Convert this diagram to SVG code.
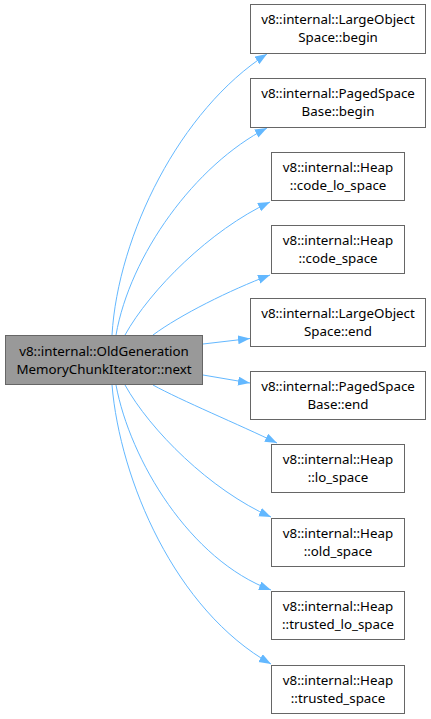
<svg xmlns="http://www.w3.org/2000/svg" width="431" height="719" viewBox="0 0 431 719">
<defs>
<style>
.node rect{stroke:#666666;stroke-width:1;}
.leaf rect{fill:#ffffff;}
.main rect{fill:#999999;}
text{font-family:"Noto Sans","DejaVu Sans",sans-serif;font-size:13.33px;fill:#000000;text-anchor:middle;}
.edges path{fill:none;stroke:#63b8ff;stroke-width:1;marker-end:url(#arr);}
</style>
<marker id="arr" markerUnits="userSpaceOnUse" markerWidth="14" markerHeight="11" refX="12" refY="4.5" orient="auto">
<path d="M0,0 L12,4.5 L0,9 Z" fill="#63b8ff"/>
</marker>
</defs>
<rect width="431" height="719" fill="#ffffff"/>
<g class="edges" id="edges">
<path d="M112,335 C118,235 180,110 267,54"/>
<path d="M116,335 C130,255 195,165 267,128"/>
<path d="M125,335 C150,290 210,230 270,202"/>
<path d="M153,335 C180,315 230,290 270,275"/>
<path d="M203,344 L250,338.5"/>
<path d="M203,375 L250,383"/>
<path d="M153,385 C180,400 240,425 277,443"/>
<path d="M125,385 C150,430 210,490 271,517"/>
<path d="M116,385 C130,460 190,560 271,590"/>
<path d="M112,385 C120,480 175,610 271,664"/>
</g>
<g class="node main" id="node-main">
<rect x="5.5" y="335.5" width="197" height="49"/>
<text x="104" y="355.5">v8::internal::OldGeneration</text>
<text x="104" y="373.5">MemoryChunkIterator::next</text>
</g>
<g class="node leaf" id="node-lo-begin">
<rect x="250.5" y="4.5" width="175" height="49"/>
<text x="338" y="24.3">v8::internal::LargeObject</text>
<text x="338" y="42.3">Space::begin</text>
</g>
<g class="node leaf" id="node-paged-begin">
<rect x="250.5" y="78.5" width="175" height="49"/>
<text x="338" y="98.3">v8::internal::PagedSpace</text>
<text x="338" y="116.3">Base::begin</text>
</g>
<g class="node leaf" id="node-code-lo-space">
<rect x="271.5" y="152.5" width="133" height="48"/>
<text x="338" y="172.3">v8::internal::Heap</text>
<text x="338" y="190.3">::code_lo_space</text>
</g>
<g class="node leaf" id="node-code-space">
<rect x="271.5" y="225.5" width="133" height="48"/>
<text x="338" y="245.3">v8::internal::Heap</text>
<text x="338" y="263.3">::code_space</text>
</g>
<g class="node leaf" id="node-lo-end">
<rect x="250.5" y="298.5" width="175" height="48"/>
<text x="338" y="318.3">v8::internal::LargeObject</text>
<text x="338" y="336.3">Space::end</text>
</g>
<g class="node leaf" id="node-paged-end">
<rect x="250.5" y="371.5" width="175" height="48"/>
<text x="338" y="391.3">v8::internal::PagedSpace</text>
<text x="338" y="409.3">Base::end</text>
</g>
<g class="node leaf" id="node-lo-space">
<rect x="271.5" y="444.5" width="133" height="48"/>
<text x="338" y="464.3">v8::internal::Heap</text>
<text x="338" y="482.3">::lo_space</text>
</g>
<g class="node leaf" id="node-old-space">
<rect x="271.5" y="518.5" width="133" height="48"/>
<text x="338" y="538.3">v8::internal::Heap</text>
<text x="338" y="556.3">::old_space</text>
</g>
<g class="node leaf" id="node-trusted-lo-space">
<rect x="271.5" y="591.5" width="133" height="48"/>
<text x="338" y="611.3">v8::internal::Heap</text>
<text x="338" y="629.3">::trusted_lo_space</text>
</g>
<g class="node leaf" id="node-trusted-space">
<rect x="271.5" y="665.5" width="133" height="48"/>
<text x="338" y="685.3">v8::internal::Heap</text>
<text x="338" y="703.3">::trusted_space</text>
</g>
</svg>
